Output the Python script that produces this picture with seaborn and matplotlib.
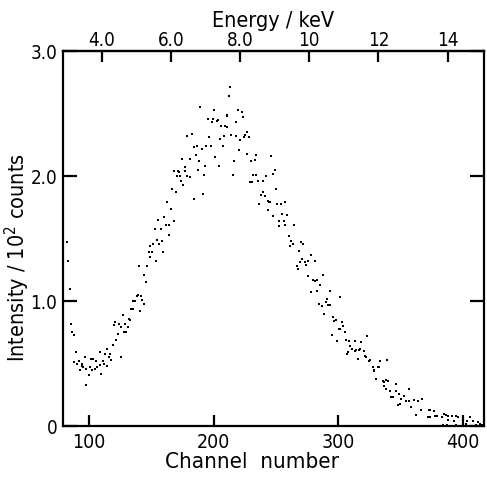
import numpy as np
import pandas as pd
import seaborn as sns
from matplotlib import pyplot as plt
from matplotlib.ticker import FixedLocator, FuncFormatter

# spectrum: channel number vs intensity (10^2 counts)
channel_low = [82.4, 83.2, 84.5, 85.3, 86.4, 88.0, 89.6, 88.0, 90.4, 91.7, 94.4, 94.1, 92.5, 95.2, 96.8,
               97.9, 100.0, 97.6, 101.1, 101.6, 103.2, 102.4, 104.5, 105.6, 106.4, 108.6, 108.8, 109.4,
               111.2, 112.0, 112.8, 114.2, 114.7, 115.8, 117.1, 117.9, 119.0, 121.7, 123.3, 125.4, 121.1,
               119.8, 123.8, 125.9, 127.0, 128.9, 128.3, 129.9, 131.0, 131.8, 132.9, 133.7, 135.6, 135.0,
               136.9, 138.2, 139.3, 142.0, 142.8, 143.8, 141.2, 139.8, 144.4, 145.4, 146.2, 148.1, 149.2,
               148.6, 150.8, 151.3, 153.7, 156.4, 158.5, 159.3]
intensity_low = [1.47, 1.32, 1.10, 0.82, 0.75, 0.73, 0.59, 0.51, 0.50, 0.52, 0.50, 0.48, 0.45, 0.47, 0.55,
                 0.46, 0.41, 0.33, 0.47, 0.54, 0.54, 0.45, 0.46, 0.52, 0.47, 0.59, 0.49, 0.42,
                 0.52, 0.50, 0.58, 0.48, 0.62, 0.55, 0.58, 0.53, 0.65, 0.69, 0.74, 0.55, 0.83,
                 0.81, 0.82, 0.79, 0.89, 0.82, 0.75, 0.75, 0.79, 0.86, 0.85, 0.94, 0.94, 1.00,
                 1.00, 1.04, 1.05, 1.04, 1.01, 0.98, 0.92, 1.28, 1.21, 1.15, 1.28, 1.39, 1.35,
                 1.44, 1.39, 1.46, 1.32, 1.46, 1.48, 1.39]

channel_rise = [188.5, 193.0, 187.1, 204.0, 176.7, 177.0, 168.2, 171.1, 172.2, 170.3, 173.0, 178.6, 181.0,
                173.5, 175.1, 192.2, 166.3, 169.5, 191.2, 184.2, 162.8, 165.8, 160.1, 167.9, 155.6, 161.7,
                164.2, 152.7, 157.5, 163.9, 154.3]
intensity_rise = [2.12, 2.08, 2.05, 2.08, 2.07, 2.04, 2.04, 2.04, 2.03, 2.00, 2.00, 2.00, 1.99,
                  1.96, 1.93, 2.01, 1.90, 1.87, 1.86, 1.82, 1.79, 1.74, 1.67, 1.64, 1.65, 1.61,
                  1.61, 1.58, 1.58, 1.53, 1.49]

channel_peak = [213.1, 212.5, 189.0, 200.5, 219.2, 222.7, 210.4, 211.0, 195.4, 199.4, 223.2, 202.4, 203.2,
                198.4, 217.6, 206.1, 209.3, 210.4, 213.9, 218.2, 226.4, 224.8, 208.3, 178.9, 182.6, 196.5,
                205.3, 221.1, 224.0, 228.3, 186.3, 184.2, 190.4, 194.1, 197.8, 207.2, 220.6, 185.8, 174.6,
                181.3, 200.8, 227.0, 234.2, 246.2, 230.2, 232.9, 216.3, 249.2, 215.2, 247.8, 231.8, 234.2,
                241.7]
intensity_peak = [2.71, 2.64, 2.55, 2.53, 2.53, 2.51, 2.49, 2.48, 2.46, 2.46, 2.47, 2.44, 2.45,
                  2.43, 2.43, 2.40, 2.40, 2.39, 2.33, 2.32, 2.35, 2.33, 2.32, 2.32, 2.34, 2.31,
                  2.30, 2.29, 2.31, 2.31, 2.24, 2.23, 2.22, 2.24, 2.24, 2.24, 2.21, 2.17, 2.14,
                  2.14, 2.15, 2.18, 2.17, 2.16, 2.12, 2.13, 2.12, 2.05, 2.01, 2.02, 2.01, 2.01,
                  2.00]

channel_fall = [229.1, 230.7, 235.8, 239.8, 249.7, 239.3, 237.7, 241.1, 236.6, 243.3, 244.1, 245.1, 250.8,
                253.7, 257.2, 243.3, 255.0, 258.8, 247.3, 252.6, 256.1, 252.4, 256.9, 264.4, 260.4, 261.7,
                263.3, 260.9, 270.0, 271.9, 268.1, 277.8, 271.3, 273.5, 275.6, 269.7, 266.5, 274.5, 281.0,
                267.6, 275.6, 287.4, 279.4, 283.1, 281.0, 285.2, 277.8, 282.8, 293.3, 290.6, 301.3, 284.2,
                286.9, 290.1, 292.0, 293.5, 288.5, 295.4, 298.1, 296.5, 302.9, 303.7, 300.2, 301.3, 305.3,
                294.9, 298.6, 306.1, 308.5, 313.8, 309.3, 311.2, 314.6, 316.5, 313.3, 307.2, 308.2, 316.0]
intensity_fall = [1.95, 1.95, 1.96, 1.96, 1.90, 1.87, 1.85, 1.84, 1.78, 1.80, 1.79, 1.79, 1.78,
                  1.78, 1.79, 1.73, 1.70, 1.69, 1.68, 1.64, 1.64, 1.60, 1.61, 1.61, 1.52, 1.48,
                  1.46, 1.44, 1.47, 1.46, 1.40, 1.37, 1.34, 1.31, 1.32, 1.31, 1.28, 1.29, 1.32,
                  1.26, 1.20, 1.21, 1.17, 1.17, 1.16, 1.13, 1.07, 1.08, 1.08, 1.02, 1.03, 0.98,
                  0.96, 0.99, 0.97, 0.97, 0.90, 0.87, 0.85, 0.84, 0.83, 0.80, 0.78, 0.78, 0.75,
                  0.73, 0.68, 0.69, 0.68, 0.68, 0.64, 0.62, 0.61, 0.61, 0.60, 0.58, 0.59, 0.54]

channel_tail = [322.7, 318.1, 317.8, 320.3, 321.6, 321.9, 325.1, 324.5, 333.6, 339.5, 327.5, 331.5, 332.6,
                328.8, 328.5, 330.4, 336.0, 338.7, 340.3, 337.1, 346.2, 336.8, 338.7, 356.6, 341.9, 346.7,
                348.6, 353.1, 343.8, 350.5, 342.7, 354.5, 356.6, 367.0, 360.6, 363.8, 358.7, 347.8, 349.7,
                366.2, 372.6, 374.0, 376.9, 385.2, 362.2, 372.1, 374.0, 377.5, 379.3, 383.1, 386.8, 388.2,
                391.4, 388.2, 394.8, 395.9, 406.1, 402.9, 402.1, 408.5, 412.2, 414.1, 410.6, 415.5, 393.0,
                394.8, 387.1, 383.9]
intensity_tail = [0.72, 0.67, 0.62, 0.60, 0.56, 0.55, 0.53, 0.52, 0.52, 0.53, 0.47, 0.47, 0.47,
                  0.45, 0.44, 0.38, 0.36, 0.37, 0.36, 0.35, 0.34, 0.32, 0.30, 0.30, 0.28, 0.28,
                  0.26, 0.24, 0.23, 0.22, 0.23, 0.20, 0.20, 0.22, 0.21, 0.20, 0.15, 0.17, 0.18,
                  0.13, 0.13, 0.13, 0.12, 0.10, 0.09, 0.07, 0.07, 0.08, 0.08, 0.07, 0.09, 0.08,
                  0.08, 0.05, 0.08, 0.07, 0.07, 0.04, 0.02, 0.04, 0.03, 0.02, 0.01, 0.01, 0.04,
                  0.01, 0.01, 0.01]

y_ticks = [0, 1.0, 2.0, 3.0]
x_ticks = [100, 200, 300, 400]
energy_ticks = [4.0, 6.0, 8.0, 10, 12, 14]
energy_labels = ["4.0", "6.0", "8.0", "10", "12", "14"]

# channel = 27.75 * E - 0.8
def ch2e(ch):
    return (np.asarray(ch) + 0.8) / 27.75

def e2ch(e):
    return 27.75 * np.asarray(e) - 0.8


sns.set_style("ticks")
plt.rcParams['font.family'] = ['DejaVu Sans']
plt.rcParams['font.stretch'] = 'condensed'
plt.rcParams['mathtext.default'] = 'regular'
plt.rcParams['text.color'] = 'black'
plt.rcParams['xtick.color'] = 'black'
plt.rcParams['ytick.color'] = 'black'
plt.rcParams['axes.labelcolor'] = 'black'

df = pd.DataFrame({
    "channel": channel_low + channel_rise + channel_peak + channel_fall + channel_tail,
    "intensity": intensity_low + intensity_rise + intensity_peak + intensity_fall + intensity_tail,
})

fig = plt.figure(figsize=(4.87, 4.87), dpi=100)
ax = fig.add_axes([0.129, 0.125, 0.865, 0.770])

sns.scatterplot(data=df, x="channel", y="intensity", ax=ax, color="black",
                marker="s", s=1.3, linewidth=0, legend=False)

ax.set_xlim(79, 417)
ax.set_ylim(0, 3.0)
ax.set_xticks(x_ticks)
ax.set_yticks(y_ticks)
ax.yaxis.set_major_formatter(FuncFormatter(lambda v, p: "0" if v == 0 else "%.1f" % v))

for s in ax.spines.values():
    s.set_linewidth(1.6)
    s.set_color("black")

ax.tick_params(axis="both", direction="in", length=8, width=1.6, labelsize=14, pad=5,
               right=True, top=False)
ax.tick_params(axis="y", pad=4, labelsize=13.5, length=10)

ax.set_xlabel("Channel  number", fontsize=16)
ax.xaxis.set_label_coords(0.45, -0.068)
ax.set_ylabel("Intensity / 10$^2$ counts", fontsize=15.5)
ax.yaxis.set_label_coords(-0.072, 0.45)

top = ax.secondary_xaxis("top", functions=(ch2e, e2ch))
top.xaxis.set_major_locator(FixedLocator(energy_ticks))
top.set_xticklabels(energy_labels)
top.tick_params(direction="in", length=8, width=1.6, labelsize=13.5, pad=1)
top.spines["top"].set_linewidth(1.6)
top.set_xlabel("Energy / keV", fontsize=15.5, labelpad=3)

fig.savefig("out.png", dpi=100)
